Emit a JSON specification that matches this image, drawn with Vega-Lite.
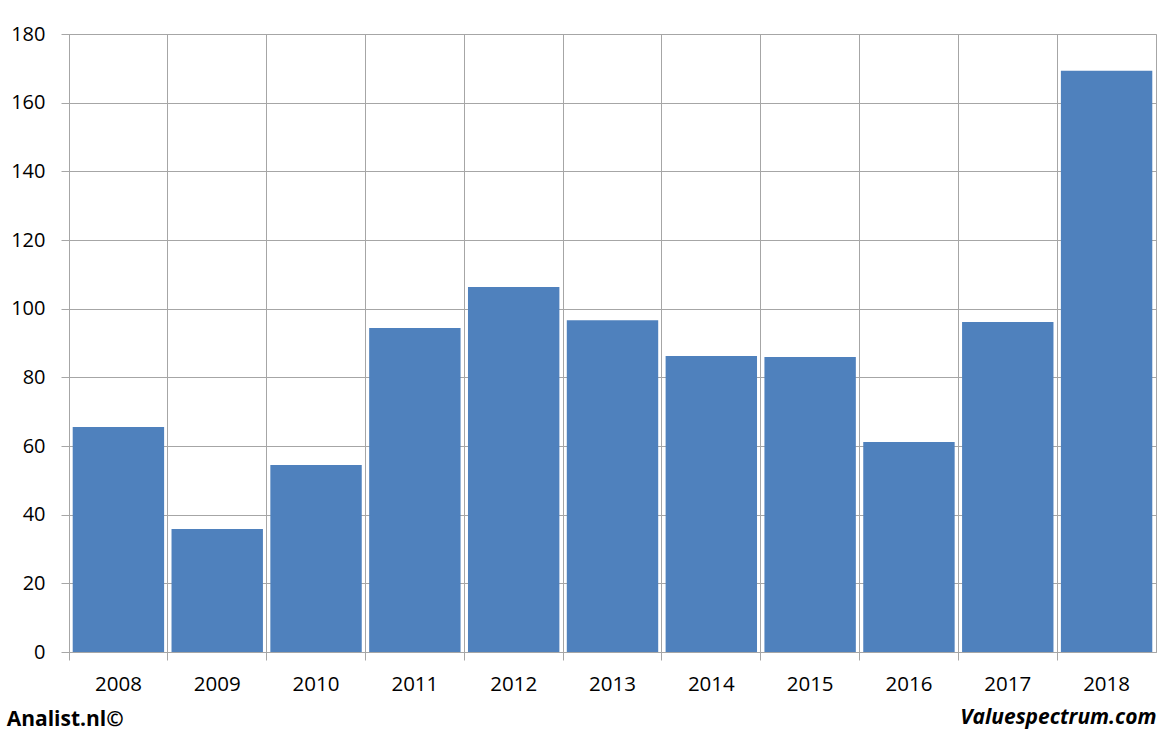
{
  "$schema": "https://vega.github.io/schema/vega-lite/v6.json",
  "width": 1087,
  "height": 618,
  "autosize": {"type": "none"},
  "padding": {"left": 69, "top": 34, "right": 16, "bottom": 82},
  "background": "white",
  "data": {
    "values": [
      {"year": "2008", "value": 65.5},
      {"year": "2009", "value": 35.8},
      {"year": "2010", "value": 54.5},
      {"year": "2011", "value": 94.4},
      {"year": "2012", "value": 106.3},
      {"year": "2013", "value": 96.6},
      {"year": "2014", "value": 86.2},
      {"year": "2015", "value": 85.9},
      {"year": "2016", "value": 61.2},
      {"year": "2017", "value": 96.1},
      {"year": "2018", "value": 169.3}
    ]
  },
  "mark": {"type": "bar", "color": "#4f81bd"},
  "encoding": {
    "x": {
      "field": "year",
      "type": "ordinal",
      "scale": {"paddingInner": 0.075, "paddingOuter": 0.0375},
      "axis": {
        "labelAngle": 0,
        "bandPosition": -0.0405,
        "labelOffset": 0,
        "grid": true,
        "gridColor": "#a6a6a6",
        "gridWidth": 1,
        "tickSize": 8,
        "tickColor": "#a6a6a6",
        "domainColor": "#a6a6a6",
        "labelPadding": 14,
        "labelFont": "Open Sans",
        "labelFontSize": 20.5,
        "labelColor": "#000000",
        "title": "Valuespectrum.com",
        "titleFont": "Open Sans",
        "titleFontSize": 21,
        "titleFontWeight": "bold",
        "titleFontStyle": "italic",
        "titleColor": "#000000",
        "titleAnchor": "end",
        "titlePadding": 12
      }
    },
    "y": {
      "field": "value",
      "type": "quantitative",
      "scale": {"domain": [0, 180]},
      "axis": {
        "values": [0, 20, 40, 60, 80, 100, 120, 140, 160, 180],
        "grid": true,
        "gridColor": "#a6a6a6",
        "tickSize": 8,
        "tickColor": "#a6a6a6",
        "domainColor": "#a6a6a6",
        "labelPadding": 16,
        "labelFont": "Open Sans",
        "labelFontSize": 20,
        "labelColor": "#000000",
        "title": null
      }
    }
  },
  "title": {
    "text": "Analist.nl©",
    "orient": "bottom",
    "anchor": "start",
    "frame": "bounds",
    "offset": -19,
    "dx": -4,
    "font": "Open Sans",
    "fontSize": 21,
    "fontWeight": "bold",
    "color": "#000000"
  },
  "config": {"view": {"stroke": "#a6a6a6"}}
}
